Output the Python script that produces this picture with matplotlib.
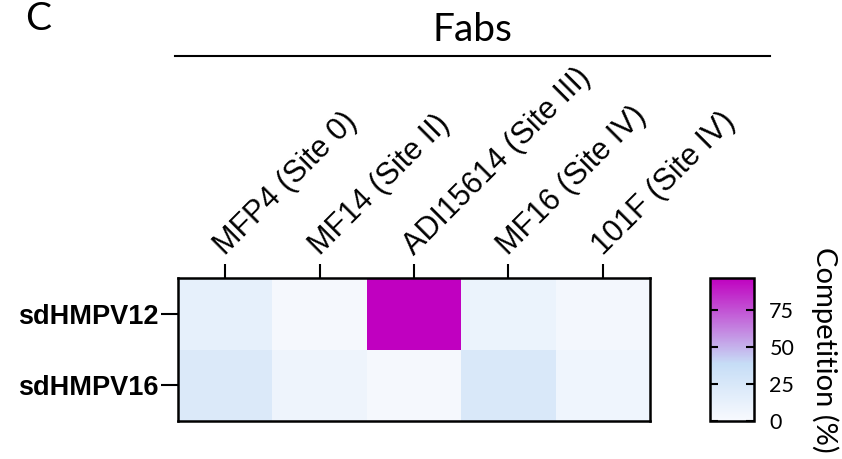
import matplotlib.pyplot as plt
import numpy as np
from matplotlib.colors import LinearSegmentedColormap

# Competition data (%)
fabs = ["MFP4 (Site 0)", "MF14 (Site II)", "ADI15614 (Site III)",
        "MF16 (Site IV)", "101F (Site IV)"]
antigens = ["sdHMPV12", "sdHMPV16"]
sdhmpv12 = [14, 3, 97, 10, 4]
sdhmpv16 = [23, 8, 3, 24, 7]
cbar_ticks = [0, 25, 50, 75]

data = np.array([sdhmpv12, sdhmpv16])

cmap = LinearSegmentedColormap.from_list(
    "comp", [(0.0, "#f8fafe"), (0.4, "#c6ddf6"), (1.0, "#c000c0")])

fig = plt.figure(figsize=(8.42, 4.59), dpi=100)

# Heatmap
ax = fig.add_axes([0.2114, 0.0828, 0.5606, 0.3115])
im = ax.pcolormesh(data, cmap=cmap, vmin=0, vmax=97)
ax.set_xlim(0, len(fabs))
ax.set_ylim(len(antigens), 0)
ax.set_xticks(np.arange(len(fabs)) + 0.5)
ax.set_xticklabels(fabs, rotation=45, ha="left", va="baseline",
                   rotation_mode="anchor", fontsize=22,
                   family="Liberation Sans")
ax.xaxis.tick_top()
ax.set_yticks(np.arange(len(antigens)) + 0.5)
ax.set_yticklabels(antigens, fontsize=19.5, fontweight="bold",
                   family="Liberation Sans")
ax.tick_params(axis="x", length=10, width=1.5, pad=6)
ax.tick_params(axis="y", length=12, width=1.5, pad=2)
for s in ax.spines.values():
    s.set_linewidth(1.8)

# Colorbar
cax = fig.add_axes([0.8432, 0.0828, 0.0523, 0.3115])
cb = fig.colorbar(im, cax=cax, ticks=cbar_ticks)
cb.outline.set_linewidth(1.8)
cax.tick_params(axis="y", direction="in", length=6, width=1.5,
                left=True, right=True, labelsize=15.5, pad=11)
for t in cax.get_yticklabels():
    t.set_family("Lato")
cb.set_label("Competition (%)", rotation=270, fontsize=21, family="Lato",
             labelpad=32)

# Header: panel letter, group title and rule
fig.text(0.5606, 0.935, "Fabs", ha="center", va="center", fontsize=28,
         family="Lato")
fig.add_artist(plt.Line2D([0.208, 0.915], [0.878, 0.878], color="black",
                          lw=1.5, transform=fig.transFigure))
fig.text(0.03, 0.997, "C", ha="left", va="top", fontsize=28, family="Lato")

fig.savefig("out.png", dpi=100)
